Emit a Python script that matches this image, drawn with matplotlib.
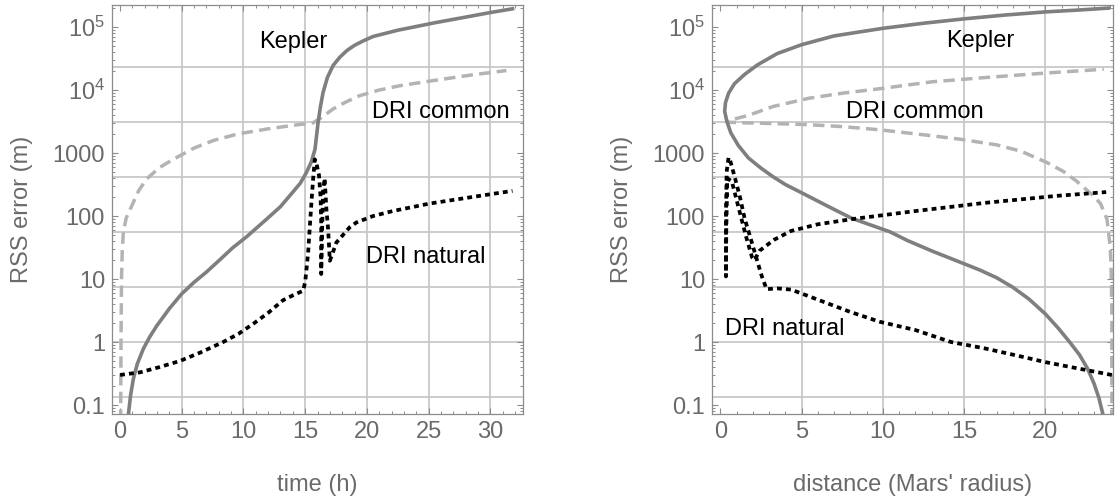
import matplotlib.pyplot as plt
from matplotlib.ticker import LogLocator, MultipleLocator, NullFormatter

plt.rcParams['font.family'] = ['Liberation Sans', 'DejaVu Sans']
plt.rcParams['mathtext.fontset'] = 'custom'
plt.rcParams['mathtext.rm'] = 'Liberation Sans'

# ---- left panel: RSS error versus time (h)
t_kepler = [0.62, 0.85, 1.08, 1.4, 1.89, 2.4, 2.97, 4.0, 4.99, 6.0, 7.0, 8.0, 9.15,
            10.25, 11.87, 13.0, 14.0, 14.6, 15.1, 15.5, 15.8, 16.05, 16.25, 16.45,
            16.8, 17.26, 17.8, 18.4, 19.0, 19.7, 20.5, 21.5, 22.5, 24.0, 25.5, 27.5,
            30.0, 31.8]
err_kepler_t = [0.056, 0.14, 0.26, 0.45, 0.78, 1.2, 1.8, 3.4, 5.8, 8.9, 12.9, 19.5, 31.6,
                46.8, 89, 141, 240, 331, 490, 724, 1150, 3090, 5620, 9120,
                15800, 24500, 33100, 42700, 51300, 60300, 70800, 79400, 89100, 102000,
                117000, 138000, 170000, 195000]

t_common = [0.05, 0.08, 0.12, 0.18, 0.27, 0.5, 0.95, 1.5, 2.16, 3.2, 4.31, 6.0, 7.55,
            9.5, 11.87, 14.0, 15.64, 16.3, 17.26, 18.3, 19.4, 21.0, 22.65, 25.35, 28.5, 31.3]
err_common_t = [0.056, 1.0, 10, 28, 55, 93, 145, 251, 389, 589, 794, 1200, 1580,
                 2000, 2400, 2750, 3020, 3630, 5010, 6460, 8130, 10000, 11700, 14100, 17400, 20400]

t_natural = [0, 1.62, 3.2, 4.85, 6.5, 8.36, 9.6, 10.8, 12.0, 13.2, 14.0, 14.83, 15.0,
             15.24, 15.4, 15.51, 15.65, 15.78, 15.95, 16.12, 16.25, 16.3, 16.3, 16.38,
             16.45, 16.58, 16.72, 16.86, 17.0, 17.53, 18.6, 19.15, 20.5, 22.1, 25.1, 28.5, 31.8]
err_natural_t = [0.30, 0.33, 0.40, 0.50, 0.68, 1.0, 1.35, 1.95, 2.9, 4.6, 5.5, 6.5, 8.9,
                 26, 79, 166, 398, 794, 631, 447, 200, 79, 12, 63,
                 251, 398, 129, 62, 19.5, 38, 66, 79, 100, 120, 158, 200, 251]

# ---- right panel: RSS error versus distance (Mars' radius)
d_kepler = [23.65, 23.55, 23.3, 23.0, 22.6, 22.1, 21.5, 20.8, 20.0, 19.0, 18.0, 17.0,
            16.0, 14.74, 13.0, 11.5, 10.45, 9.0, 8.05, 6.5, 5.0, 4.0, 3.26, 2.5, 1.73,
            1.1, 0.64, 0.4, 0.26, 0.31, 0.5, 0.86, 1.5, 2.28, 3.5, 5.0, 7.0, 10.0, 12.5,
            15.0, 17.5, 20.0, 22.0, 23.9]
err_kepler_d = [0.05, 0.071, 0.13, 0.22, 0.38, 0.63, 1.0, 1.66, 2.8, 4.8, 7.4, 10.5,
                13.8, 18.6, 28, 41, 56, 76, 93, 148, 234, 316, 417, 575, 832,
                1320, 2090, 3160, 4570, 6310, 8910, 12600, 17800, 25100, 38000, 52500,
                72400, 95500, 115000, 135000, 155000, 174000, 186000, 200000]

d_common = [24.1, 24.1, 24.05, 24.0, 23.8, 23.4, 22.96, 21.9, 21.1, 20.1, 18.5, 17.0,
            14.74, 12.5, 9.8, 7.5, 5.44, 3.0, 1.5, 0.4, 0.86, 1.73, 3.26, 5.44, 7.5, 9.8,
            13.0, 16.3, 20.0, 23.6]
err_common_d = [0.056, 3.2, 16, 32, 89, 158, 209, 363, 513, 708, 1070, 1350,
                1660, 1950, 2340, 2630, 2820, 2950, 3020, 3090, 3470, 3980, 5500, 7410, 8910,
                10500, 13500, 15800, 18600, 21400]

d_natural = [24.1, 23.0, 21.8, 20.0, 18.5, 16.3, 14.2, 12.0, 9.8, 8.0, 6.5, 5.3, 4.35,
             3.5, 2.84, 2.55, 2.2, 1.85, 1.5, 1.2, 0.9, 0.6, 0.5, 0.38, 0.34, 0.34, 0.36,
             0.42, 0.7, 1.0, 1.3, 1.6, 1.95, 2.1, 2.4, 3.3, 4.35, 6.0, 8.05, 12.0, 16.3,
             20.7, 23.75]
err_natural_d = [0.30, 0.34, 0.39, 0.48, 0.59, 0.79, 1.0, 1.55, 2.1, 3.0, 4.2, 5.5, 6.8,
                 7.1, 6.9, 11, 22, 45, 89, 200, 398, 759, 851, 501, 100, 11, 63,
                 398, 355, 178, 89, 45, 22, 20, 28, 42, 58, 74, 89, 120, 162,
                 209, 240]

y_ticks = [0.1, 1, 10, 100, 1000, 1e4, 1e5]
y_tick_labels = ['0.1', '1', '10', '100', '1000', r'$\mathregular{10^4}$', r'$\mathregular{10^5}$']
y_grid = [0.134, 1, 7.46, 55.7, 416, 3105, 23170]

frame_col = '#8c8c8c'
text_col = '#6a6a6a'
grid_col = '#c8c8c8'
fs = 17


def style_axes(ax, xgrid, xlabel):
    ax.set_yscale('log')
    ax.set_ylim(0.072, 2.24e5)
    ax.set_yticks(y_ticks, y_tick_labels)
    ax.yaxis.set_minor_locator(LogLocator(base=10, subs=range(2, 10), numticks=20))
    ax.yaxis.set_minor_formatter(NullFormatter())
    ax.xaxis.set_major_locator(MultipleLocator(5))
    ax.xaxis.set_minor_locator(MultipleLocator(1))
    for v in xgrid:
        ax.axvline(v, color=grid_col, lw=1.3, zorder=0)
    for v in y_grid:
        ax.axhline(v, color=grid_col, lw=1.3, zorder=0)
    ax.tick_params(which='both', direction='in', top=True, right=True,
                   color=frame_col, labelcolor=text_col, labelsize=fs)
    ax.tick_params(which='major', length=4, width=0.8, pad=5)
    ax.tick_params(which='minor', length=2.2, width=0.7)
    for spine in ax.spines.values():
        spine.set_color(frame_col)
        spine.set_linewidth(0.9)
    ax.set_xlabel(xlabel, color=text_col, fontsize=fs, labelpad=22)
    ax.set_ylabel('RSS error (m)', color=text_col, fontsize=fs, labelpad=14)


def curves(ax, x1, y1, x2, y2, x3, y3):
    ax.plot(x1, y1, color='#7f7f7f', lw=2.6, zorder=3)
    ax.plot(x2, y2, color='#b3b3b3', lw=2.5, dashes=(3.3, 1.8), zorder=2)
    ax.plot(x3, y3, color='black', lw=2.7, dashes=(1.3, 1.1), zorder=4)


fig = plt.figure(figsize=(11.17, 4.96), dpi=100)
ax1 = fig.add_axes([112 / 1117, 1 - 414 / 496, 411 / 1117, 409 / 496])
ax2 = fig.add_axes([712 / 1117, 1 - 414 / 496, 401 / 1117, 409 / 496])

curves(ax1, t_kepler, err_kepler_t, t_common, err_common_t, t_natural, err_natural_t)
style_axes(ax1, [5, 10, 15, 20, 25, 30], 'time (h)')
ax1.set_xlim(-0.65, 32.65)
ax1.text(14.0, 57500, 'Kepler', fontsize=fs, ha='center', va='center')
ax1.text(26.0, 4470, 'DRI common', fontsize=fs, ha='center', va='center')
ax1.text(24.8, 22.4, 'DRI natural', fontsize=fs, ha='center', va='center')

curves(ax2, d_kepler, err_kepler_d, d_common, err_common_d, d_natural, err_natural_d)
style_axes(ax2, [5, 10, 15, 20], "distance (Mars' radius)")
ax2.set_xlim(-0.52, 24.17)
ax2.text(15.98, 60300, 'Kepler', fontsize=fs, ha='center', va='center')
ax2.text(11.98, 4470, 'DRI common', fontsize=fs, ha='center', va='center')
ax2.text(0.25, 1.62, 'DRI natural', fontsize=fs, ha='left', va='center')

fig.savefig('out.png', dpi=100)
